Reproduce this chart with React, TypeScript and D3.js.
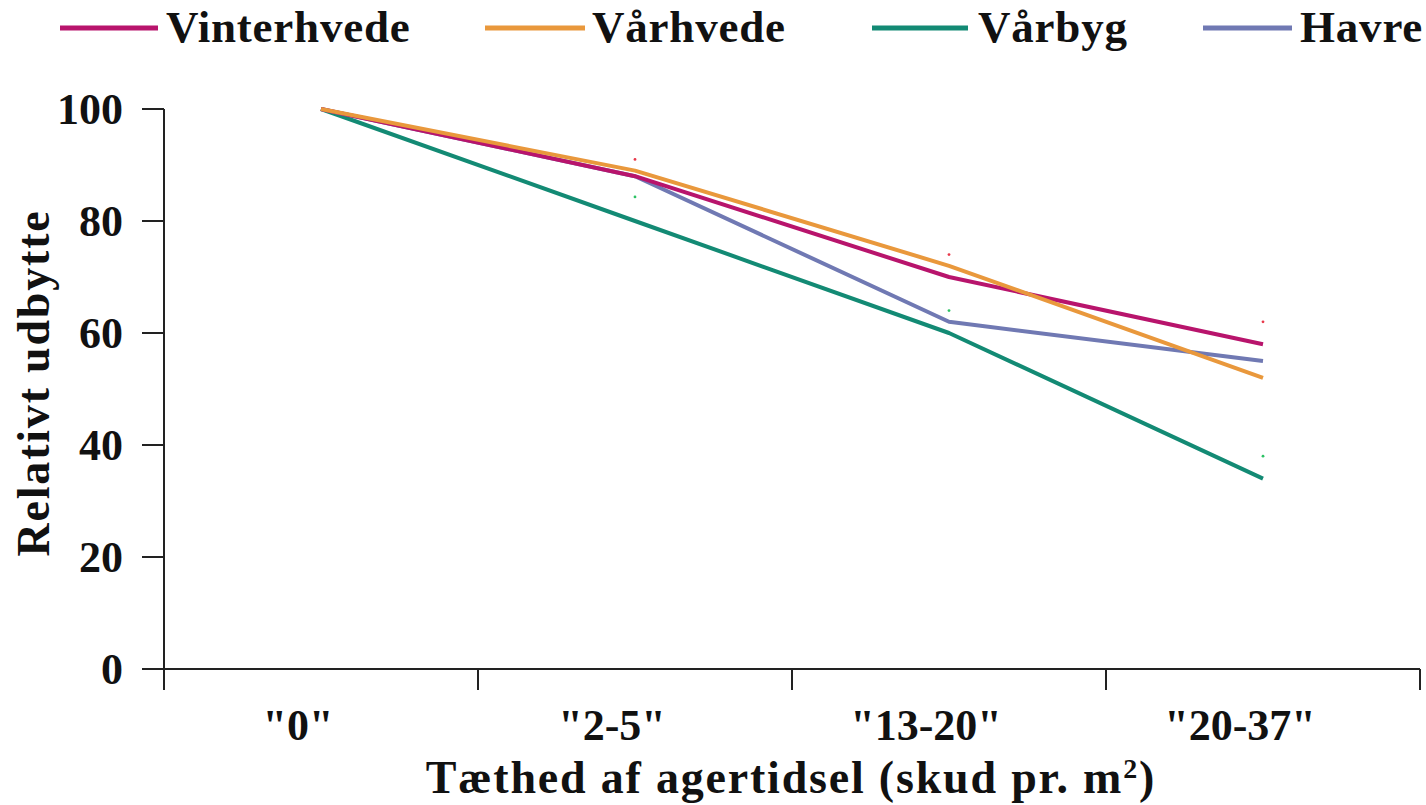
import { useRef, useEffect } from "react";
import * as d3 from "d3";

const categories = ['"0"', '"2-5"', '"13-20"', '"20-37"'];
const seriesNames = ["Vinterhvede", "Vårhvede", "Vårbyg", "Havre"];
const seriesColors = ["#b8146c", "#e9983c", "#138a74", "#7079b3"];
const vinterhvede = [100, 88, 70, 58];
const vaarhvede = [100, 89, 72, 52];
const vaarbyg = [100, 80, 60, 34];
const havre = [100, 88, 62, 55];
// small markers (red / green) above the points
const redMarks = [null, 91, 74, 62];
const greenMarks = [null, 84.3, 64, 38];
const yTicks = [0, 20, 40, 60, 80, 100];

const FONT = "'Liberation Serif', 'Times New Roman', serif";

export default function App() {
  const ref = useRef<SVGSVGElement | null>(null);

  useEffect(() => {
    if (!ref.current) return;
    const svg = d3.select(ref.current);
    svg.selectAll("*").remove();

    const width = 1426;
    const height = 805;
    const margin = { top: 109, right: 6, bottom: 136, left: 164 };

    const x = d3
      .scaleBand<string>()
      .domain(categories)
      .range([margin.left, width - margin.right])
      .padding(0);
    const y = d3
      .scaleLinear()
      .domain([0, 100])
      .range([height - margin.bottom, margin.top]);
    const cx = (c: string) => (x(c) ?? 0) + x.bandwidth() / 2;

    const axisColor = "#222";

    // y axis
    const ya = svg.append("g");
    ya.append("line")
      .attr("x1", margin.left)
      .attr("x2", margin.left)
      .attr("y1", y(100))
      .attr("y2", y(0) + 21)
      .attr("stroke", axisColor)
      .attr("stroke-width", 2);
    ya.selectAll("line.tick")
      .data(yTicks)
      .join("line")
      .attr("class", "tick")
      .attr("x1", margin.left - 22)
      .attr("x2", margin.left)
      .attr("y1", (d) => y(d))
      .attr("y2", (d) => y(d))
      .attr("stroke", axisColor)
      .attr("stroke-width", 2);
    ya.selectAll("text")
      .data(yTicks)
      .join("text")
      .attr("x", margin.left - 41)
      .attr("y", (d) => y(d) + 15)
      .attr("text-anchor", "end")
      .attr("font-family", FONT)
      .attr("font-weight", "bold")
      .attr("font-size", 44)
      .attr("fill", "#111")
      .text((d) => d);

    // x axis
    const xa = svg.append("g");
    xa.append("line")
      .attr("x1", margin.left)
      .attr("x2", width - margin.right)
      .attr("y1", y(0))
      .attr("y2", y(0))
      .attr("stroke", axisColor)
      .attr("stroke-width", 2);
    const edges = [...categories.map((c) => x(c) ?? 0), width - margin.right];
    xa.selectAll("line.tick")
      .data(edges.slice(1))
      .join("line")
      .attr("class", "tick")
      .attr("x1", (d) => d)
      .attr("x2", (d) => d)
      .attr("y1", y(0))
      .attr("y2", y(0) + 21)
      .attr("stroke", axisColor)
      .attr("stroke-width", 2);
    xa.selectAll("text")
      .data(categories)
      .join("text")
      .attr("x", (d) => cx(d) - 23)
      .attr("y", 740)
      .attr("text-anchor", "middle")
      .attr("font-family", FONT)
      .attr("font-weight", "bold")
      .attr("font-size", 44)
      .attr("fill", "#111")
      .text((d) => d);

    // axis titles
    const xt = svg
      .append("text")
      .attr("x", 791)
      .attr("y", 793)
      .attr("text-anchor", "middle")
      .attr("font-family", FONT)
      .attr("font-weight", "bold")
      .attr("font-size", 46)
      .attr("letter-spacing", 1.8)
      .attr("fill", "#111");
    xt.append("tspan").text("Tæthed af agertidsel (skud pr. m");
    xt.append("tspan").attr("font-size", 28).attr("dy", -15).text("2");
    xt.append("tspan").attr("dy", 15).text(")");

    svg
      .append("text")
      .attr("transform", `translate(49,383) rotate(-90)`)
      .attr("text-anchor", "middle")
      .attr("font-family", FONT)
      .attr("font-weight", "bold")
      .attr("font-size", 46)
      .attr("letter-spacing", 1.8)
      .attr("fill", "#111")
      .text("Relativt udbytte");

    // lines
    const allSeries = [vinterhvede, vaarhvede, vaarbyg, havre];
    const line = d3
      .line<number>()
      .x((_, i) => cx(categories[i]))
      .y((d) => y(d));
    // draw order: Vårbyg first, then Havre, Vinterhvede, Vårhvede
    [2, 3, 0, 1].forEach((si) => {
      svg
        .append("path")
        .datum(allSeries[si])
        .attr("d", line)
        .attr("fill", "none")
        .attr("stroke", seriesColors[si])
        .attr("stroke-width", 4)
        .attr("stroke-linejoin", "round");
    });

    // small markers
    const marks = [
      { vals: redMarks, color: "#e8384a" },
      { vals: greenMarks, color: "#2cc264" },
    ];
    marks.forEach((m) => {
      svg
        .append("g")
        .selectAll("circle")
        .data(m.vals.map((v, i) => ({ v, i })).filter((d) => d.v !== null))
        .join("circle")
        .attr("cx", (d) => cx(categories[d.i]))
        .attr("cy", (d) => y(d.v as number))
        .attr("r", 1.4)
        .attr("fill", m.color);
    });

    // legend
    const legendLine = [
      [60, 158],
      [485, 585],
      [872, 968],
      [1203, 1292],
    ];
    const legendText = [166, 592, 978, 1300];
    const lg = svg.append("g");
    seriesNames.forEach((name, i) => {
      lg.append("line")
        .attr("x1", legendLine[i][0])
        .attr("x2", legendLine[i][1])
        .attr("y1", 28)
        .attr("y2", 28)
        .attr("stroke", seriesColors[i])
        .attr("stroke-width", 5);
      lg.append("text")
        .attr("x", legendText[i])
        .attr("y", 42)
        .attr("font-family", FONT)
        .attr("font-weight", "bold")
        .attr("font-size", 45)
        .attr("letter-spacing", 0.8)
        .attr("fill", "#111")
        .text(name);
    });
  }, []);

  return (
    <svg
      ref={ref}
      width={1426}
      height={805}
      style={{ position: "absolute", left: 0, top: 0, background: "#fff" }}
    />
  );
}
